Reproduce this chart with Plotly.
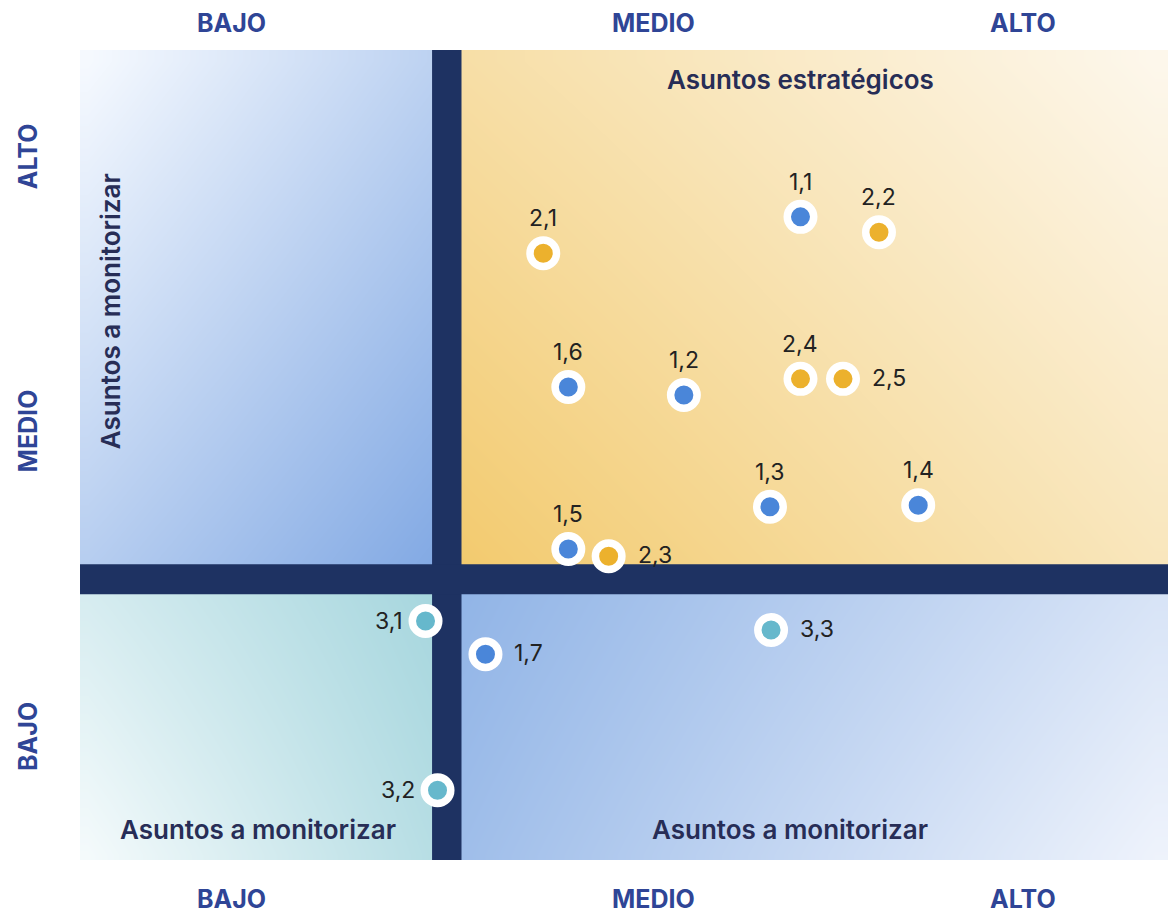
import numpy as np
import plotly.graph_objects as go

# ---- data ----
level_labels = ["BAJO", "MEDIO", "ALTO"]
x_level_pos = [1.39, 5.26, 8.65]
y_level_pos = [1.48, 5.25, 8.64]

blue_labels = ["1,1", "1,2", "1,3", "1,4", "1,5", "1,6", "1,7"]
blue_x = [6.61, 5.54, 6.33, 7.69, 4.48, 4.48, 3.72]
blue_y = [7.94, 5.74, 4.36, 4.38, 3.84, 5.84, 2.54]
blue_textpos = ["top", "top", "top", "top", "top", "top", "right"]

orange_labels = ["2,1", "2,2", "2,3", "2,4", "2,5"]
orange_x = [4.25, 7.33, 4.85, 6.61, 7.00]
orange_y = [7.49, 7.75, 3.75, 5.94, 5.94]
orange_textpos = ["top", "top", "right", "top", "right"]

teal_labels = ["3,1", "3,2", "3,3"]
teal_x = [3.17, 3.28, 6.34]
teal_y = [2.95, 0.86, 2.84]
teal_textpos = ["left", "left", "right"]

quadrant_titles = ["Asuntos estratégicos", "Asuntos a monitorizar", "Asuntos a monitorizar", "Asuntos a monitorizar"]

# ---- geometry / style ----
XMAX, YMAX = 10.0, 10.0
VX0, VX1 = 3.23, 3.50     # vertical bar
HY0, HY1 = 3.28, 3.65     # horizontal bar
XS = (VX0 + VX1) / 2
YS = (HY0 + HY1) / 2
BAR = "#1e3262"
TITLE_C = "#272d56"
AXIS_C = "#2f4596"
FONT = "Inter"

fig = go.Figure()


def gradient(x0, x1, y0, y1, corners, c0, c1):
    # corners: (bottom-left, bottom-right, top-left, top-right) in 0..1
    n = 24
    xe = np.linspace(x0, x1, n + 1)
    ye = np.linspace(y0, y1, n + 1)
    u = (np.arange(n) + 0.5) / n
    U, V = np.meshgrid(u, u)
    bl, br, tl, tr = corners
    z = bl * (1 - U) * (1 - V) + br * U * (1 - V) + tl * (1 - U) * V + tr * U * V
    fig.add_trace(go.Heatmap(x=xe, y=ye, z=z, zmin=0, zmax=1, zsmooth="best",
                             colorscale=[[0, c0], [1, c1]], showscale=False,
                             hoverinfo="skip"))


gradient(0, XS, YS, YMAX, (0.55, 1.0, 0.0, 0.5), "#f8fbff", "#7fa7e3")
gradient(XS, XMAX, YS, YMAX, (0.0, 0.62, 0.45, 1.0), "#f2c96b", "#fdf8ee")
gradient(0, XS, 0, YS, (0.0, 0.8, 0.4, 1.0), "#f6fbfc", "#a4d5dd")
gradient(XS, XMAX, 0, YS, (0.15, 1.0, 0.0, 0.75), "#8fb3e6", "#f0f4fc")

# bars
for xs, ys in [([VX0, VX1, VX1, VX0, VX0], [0, 0, YMAX, YMAX, 0]),
               ([0, XMAX, XMAX, 0, 0], [HY0, HY0, HY1, HY1, HY0])]:
    fig.add_trace(go.Scatter(x=xs, y=ys, fill="toself", fillcolor=BAR, mode="lines",
                             line=dict(width=0, color=BAR), hoverinfo="skip", showlegend=False))

label_font = dict(family=FONT, size=23, color="#222222")
offsets = {
    "top": dict(xshift=0, yshift=35, xanchor="center", yanchor="middle"),
    "right": dict(xshift=27, yshift=1, xanchor="left", yanchor="middle"),
    "left": dict(xshift=-21, yshift=0, xanchor="right", yanchor="middle"),
}


def points(xs, ys, labels, pos, color):
    fig.add_trace(go.Scatter(
        x=xs, y=ys, mode="markers",
        marker=dict(size=26.5, color=color, line=dict(width=7.5, color="white")),
        hoverinfo="skip", showlegend=False, cliponaxis=False))
    for xv, yv, lab, p in zip(xs, ys, labels, pos):
        fig.add_annotation(x=xv, y=yv, text=lab, showarrow=False, font=label_font, **offsets[p])


points(blue_x, blue_y, blue_labels, blue_textpos, "#4a86d9")
points(orange_x, orange_y, orange_labels, orange_textpos, "#ecb12d")
points(teal_x, teal_y, teal_labels, teal_textpos, "#66b8cc")

# invisible trace for top axis
fig.add_trace(go.Scatter(x=[0, XMAX], y=[0, 0], xaxis="x2", mode="markers",
                         marker=dict(opacity=0), hoverinfo="skip", showlegend=False))

tf = dict(family=FONT, size=25, color=AXIS_C, weight=700)
qf = dict(family=FONT, size=26, color=TITLE_C, weight=600)

fig.add_annotation(x=(XS + XMAX) / 2 - 0.07, y=9.63, text=quadrant_titles[0], showarrow=False, font=qf)
fig.add_annotation(x=0.28, y=6.77, text=quadrant_titles[1], showarrow=False,
                   font=qf, textangle=-90)
fig.add_annotation(x=XS / 2 - 0.05, y=0.38, text=quadrant_titles[2], showarrow=False, font=qf)
fig.add_annotation(x=6.51, y=0.38, text=quadrant_titles[3], showarrow=False, font=qf)

fig.update_layout(
    template="none",
    width=1168, height=906,
    margin=dict(l=72, r=6, t=42, b=54),
    paper_bgcolor="white", plot_bgcolor="white",
    showlegend=False,
    xaxis=dict(range=[0, XMAX], tickvals=x_level_pos, ticktext=level_labels, tickfont=tf,
               ticks="outside", ticklen=17, tickcolor="rgba(0,0,0,0)", showgrid=False,
               zeroline=False, showline=False, automargin=False),
    xaxis2=dict(range=[0, XMAX], overlaying="x", side="top", tickvals=x_level_pos,
                ticktext=level_labels, tickfont=tf, ticks="outside", ticklen=7,
                tickcolor="rgba(0,0,0,0)", showgrid=False, zeroline=False, showline=False,
                automargin=False),
    yaxis=dict(range=[0, YMAX], tickvals=y_level_pos, ticktext=level_labels, tickfont=tf,
               tickangle=-90, ticks="outside", ticklen=32, tickcolor="rgba(0,0,0,0)",
               showgrid=False, zeroline=False, showline=False, automargin=False),
)

fig.write_html("out.html")
